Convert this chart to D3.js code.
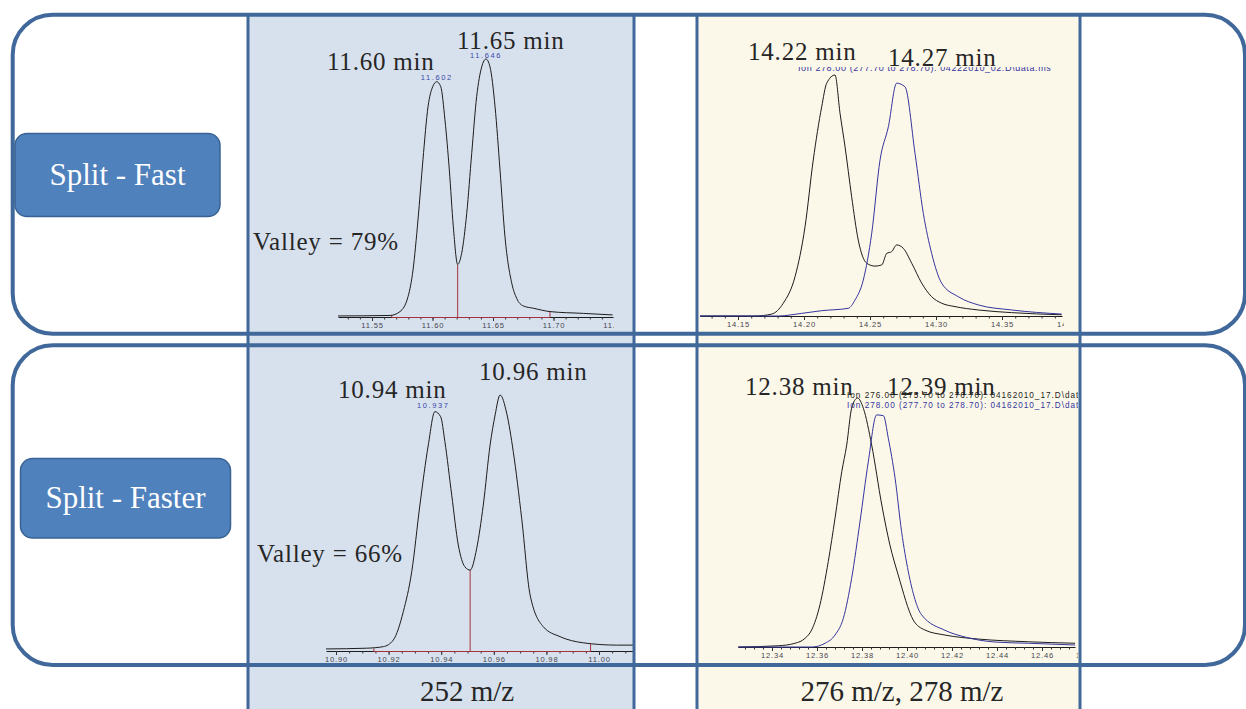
<!DOCTYPE html>
<html>
<head>
<meta charset="utf-8">
<script src="https://cdn.jsdelivr.net/npm/d3@7"></script>
<style>
  html, body { margin: 0; padding: 0; background: #fff; }
  svg { display: block; }
</style>
</head>
<body>
<svg id="chart" width="1246" height="709"></svg>
<script>
// ---- data: [retention time (min), relative abundance (%)] ----
const rowLabels = ['Split - Fast', 'Split - Faster'];
const columnLabels = ['252 m/z', '276 m/z, 278 m/z'];

const fast252 = [
  [11.5219, 0.4], [11.5649, 0.6], [11.5731, 2.1], [11.5798, 7.9], [11.5839, 18.2],
  [11.5880, 37.6], [11.5921, 60.9], [11.5963, 81.5], [11.6002, 89.3], [11.6035, 91.2],
  [11.6068, 89.3], [11.6103, 76.4], [11.6139, 57.0], [11.6172, 35.0], [11.6208, 20.4],
  [11.6241, 24.7], [11.6283, 40.2], [11.6324, 63.4], [11.6365, 85.4], [11.6407, 97.0],
  [11.6442, 100], [11.6475, 97.0], [11.6517, 81.5], [11.6558, 57.0], [11.6599, 31.1],
  [11.6655, 13.1], [11.6696, 7.2], [11.6750, 4.3], [11.6833, 3.4], [11.6971, 2.1],
  [11.7246, 1.4], [11.7489, 0.8]
];
const fast276 = [
  [14.1212, 0], [14.1629, 0], [14.1755, 0.8], [14.1843, 5.3], [14.1932, 16.3],
  [14.2008, 37.1], [14.2070, 64.7], [14.2134, 86.8], [14.2172, 96.6], [14.2235, 100],
  [14.2273, 84.1], [14.2311, 70.2], [14.2361, 49.5], [14.2411, 31.5], [14.2475, 21.9],
  [14.2538, 20.7], [14.2589, 21.2], [14.2627, 26.0], [14.2664, 26.7], [14.2702, 29.5],
  [14.2752, 28.1], [14.2816, 21.9], [14.2892, 13.6], [14.2967, 8.0], [14.3043, 5.3],
  [14.3144, 3.9], [14.3320, 2.5], [14.3573, 1.4], [14.3952, 0.5]
];
const fast278 = [
  [14.1212, 0], [14.1805, 0], [14.1983, 1.1], [14.2134, 2.2], [14.2336, 3.2],
  [14.2386, 6.6], [14.2449, 14.9], [14.2513, 34.3], [14.2576, 64.7], [14.2639, 78.5],
  [14.2702, 96.6], [14.2765, 95.1], [14.2841, 67.5], [14.2904, 42.6], [14.2967, 26.0],
  [14.3043, 13.6], [14.3169, 8.0], [14.3320, 4.6], [14.3573, 2.5], [14.3952, 0.8]
];
const faster252 = [
  [10.8962, 0.8], [10.9117, 1.1], [10.9180, 1.7], [10.9218, 4.3], [10.9256, 15.4],
  [10.9288, 31.0], [10.9319, 57.0], [10.9351, 80.5], [10.9376, 93.5], [10.9398, 91.5],
  [10.9414, 81.8], [10.9440, 60.9], [10.9465, 41.4], [10.9490, 32.9], [10.9510, 31.6],
  [10.9535, 40.1], [10.9560, 57.0], [10.9586, 80.5], [10.9605, 92.2], [10.9624, 100],
  [10.9649, 92.9], [10.9674, 77.9], [10.9706, 51.8], [10.9738, 21.9], [10.9788, 9.5],
  [10.9852, 5.6], [10.9940, 3.2], [11.0067, 2.3], [11.0130, 2.3]
];
const faster276 = [
  [12.3250, 0], [12.3428, 0.5], [12.3502, 1.5], [12.3547, 3.5], [12.3576, 6.8],
  [12.3613, 16.9], [12.3650, 34.3], [12.3680, 51.7], [12.3710, 70.4], [12.3732, 81.1],
  [12.3754, 95.9], [12.3780, 100], [12.3806, 95.9], [12.3843, 81.1], [12.3888, 57.0],
  [12.3924, 41.0], [12.3961, 28.9], [12.4028, 10.8], [12.4080, 6.8], [12.4169, 4.8],
  [12.4317, 3.2], [12.4539, 2.1], [12.4747, 1.5]
];
const faster278 = [
  [12.3250, 0], [12.3576, 0], [12.3636, 1.5], [12.3680, 4.8], [12.3717, 11.5],
  [12.3754, 27.6], [12.3791, 50.3], [12.3828, 74.4], [12.3865, 93.2], [12.3895, 92.9],
  [12.3917, 83.8], [12.3947, 67.8], [12.3976, 46.3], [12.4006, 30.2], [12.4065, 12.9],
  [12.4169, 6.7], [12.4258, 4.0], [12.4391, 2.0], [12.4539, 1.5], [12.4747, 0.8]
];

// valley integration markers: start of baseline, valley drop line, end of baseline
const fast252Valley = [{t: 11.5663, h: 0.8}, {t: 11.6208, h: 20.4}, {t: 11.6971, h: 2.1}];
const faster252Valley = [{t: 10.9144, h: 1.0}, {t: 10.9510, h: 31.6}, {t: 10.9968, h: 3.0}];

// small peak annotations printed by the instrument software
const fast252Peaks = [{t: 11.6035, h: 91.2, label: '11.602'}, {t: 11.6442, h: 100, label: '11.646'}];
const faster252Peaks = [{t: 10.9370, h: 93.5, label: '10.937'}];

// axis tick labels
const fast252Ticks = [11.55, 11.60, 11.65, 11.70, 11.75];
const fast276Ticks = [14.15, 14.20, 14.25, 14.30, 14.35, 14.40];
const faster252Ticks = [10.90, 10.92, 10.94, 10.96, 10.98, 11.00, 11.02];
const faster276Ticks = [12.34, 12.36, 12.38, 12.40, 12.42, 12.44, 12.46, 12.48];

// trace headers
const fast276Headers = ['Ion 278.00 (277.70 to 278.70): 04222010_02.D\\data.ms'];
const faster276Headers = ['Ion 276.00 (275.70 to 276.70): 04162010_17.D\\data.ms',
                          'Ion 278.00 (277.70 to 278.70): 04162010_17.D\\data.ms'];

// retention-time callouts and valley notes
const fastCallouts = ['11.60 min', '11.65 min', '14.22 min', '14.27 min'];
const fasterCallouts = ['10.94 min', '10.96 min', '12.38 min', '12.39 min'];
const valleyNotes = ['Valley = 79%', 'Valley = 66%'];

// ---- drawing ----
const BORDER = '#41689a';
const BLACK = '#1c1c1c';
const BLUE = '#34349e';
const RED = '#a3333a';
const SERIF = "'Liberation Serif', 'Times New Roman', serif";
const SANS = "'Liberation Sans', Arial, sans-serif";

const svg = d3.select('#chart');
const defs = svg.append('defs');

// column backgrounds
svg.append('rect').attr('x', 248).attr('y', 14).attr('width', 386).attr('height', 700).attr('fill', '#d7e1ee');
svg.append('rect').attr('x', 697).attr('y', 14).attr('width', 383).attr('height', 700).attr('fill', '#fcf8e9');

// panel layout: calibration of the time axis and the abundance axis in pixels
const panels = [
  {id: 'p1', series: [fast252], colors: [BLACK], cal: [[11.55, 372], [11.70, 553.5]], ext: [338, 613],
   y0: 317, y100: 59, ticks: fast252Ticks, minor: 0.01, clip: [336, 30, 278, 305],
   valley: fast252Valley, peaks: fast252Peaks, peakGap: 1.5, headers: [], headerXY: [0, 0]},
  {id: 'p2', series: [fast276, fast278], colors: [BLACK, BLUE], cal: [[14.15, 738], [14.35, 1002]], ext: [700, 1062],
   y0: 316, y100: 75, ticks: fast276Ticks, minor: 0.01, clip: [699, 67, 365, 267],
   valley: null, peaks: [], headers: fast276Headers, headerXY: [798, 70.5], headerSize: 9, headerSpacing: 0.6,
   headerColors: [BLUE]},
  {id: 'p3', series: [faster252], colors: [BLACK], cal: [[10.90, 336], [11.00, 599]], ext: [326, 634],
   y0: 651, y100: 395, ticks: faster252Ticks, minor: 0.005, clip: [325, 388, 309, 278],
   valley: faster252Valley, peaks: faster252Peaks, peakGap: 3.5, headers: [], headerXY: [0, 0]},
  {id: 'p4', series: [faster276, faster278], colors: [BLACK, BLUE], cal: [[12.34, 772], [12.46, 1042]], ext: [738, 1075],
   y0: 647, y100: 398, ticks: faster276Ticks, minor: 0.004, clip: [737, 389, 341, 277],
   valley: null, peaks: [], headers: faster276Headers, headerXY: [847, 397.5], headerSize: 8.2, headerSpacing: 1.0,
   headerColors: [BLACK, BLUE]}
];

panels.forEach(p => {
  defs.append('clipPath').attr('id', 'clip-' + p.id)
    .append('rect')
    .attr('x', p.clip[0]).attr('y', p.clip[1])
    .attr('width', p.clip[2]).attr('height', p.clip[3]);

  const g = svg.append('g').attr('clip-path', `url(#clip-${p.id})`);

  const cal = d3.scaleLinear().domain([p.cal[0][0], p.cal[1][0]]).range([p.cal[0][1], p.cal[1][1]]);
  const x = d3.scaleLinear().domain([cal.invert(p.ext[0]), cal.invert(p.ext[1])]).range(p.ext);
  const y = d3.scaleLinear().domain([0, 100]).range([p.y0, p.y100]);

  // trace headers
  p.headers.forEach((h, i) => {
    g.append('text')
      .attr('x', p.headerXY[0]).attr('y', p.headerXY[1] + i * 10)
      .attr('font-family', SANS).attr('font-size', p.headerSize)
      .attr('letter-spacing', p.headerSpacing)
      .attr('fill', p.headerColors[i])
      .text(h);
  });

  // minor ticks
  const d = x.domain();
  const minorVals = d3.range(Math.ceil(d[0] / p.minor), Math.floor(d[1] / p.minor) + 1).map(k => k * p.minor);
  g.append('g')
    .attr('transform', `translate(0,${p.y0})`)
    .call(d3.axisBottom(x).tickValues(minorVals).tickSizeInner(2.5).tickSizeOuter(0).tickFormat(''))
    .call(a => a.select('.domain').attr('stroke', BLACK).attr('stroke-width', 1))
    .call(a => a.selectAll('.tick line').attr('stroke', '#333'));

  // major ticks with labels
  g.append('g')
    .attr('transform', `translate(0,${p.y0})`)
    .call(d3.axisBottom(x).tickValues(p.ticks).tickSizeInner(4).tickSizeOuter(0).tickPadding(2)
      .tickFormat(d3.format('.2f')))
    .call(a => a.select('.domain').remove())
    .call(a => a.selectAll('.tick line').attr('stroke', '#333'))
    .call(a => a.selectAll('.tick text')
      .attr('font-family', SANS).attr('font-size', 7.6)
      .attr('letter-spacing', 0.8)
      .attr('fill', '#45454f'));

  // valley markers
  if (p.valley) {
    const v = p.valley;
    const red = g.append('g').attr('stroke', RED).attr('stroke-width', 1).attr('fill', 'none');
    red.append('line')
      .attr('x1', x(v[0].t)).attr('x2', x(v[v.length - 1].t))
      .attr('y1', y(0) + 0.5).attr('y2', y(0) + 0.5);
    red.selectAll('line.drop')
      .data(v)
      .enter()
      .append('line')
      .attr('class', 'drop')
      .attr('x1', dd => x(dd.t)).attr('x2', dd => x(dd.t))
      .attr('y1', y(0) + 0.5).attr('y2', dd => y(dd.h));
  }

  // traces
  const line = d3.line()
    .x(dd => x(dd[0]))
    .y(dd => y(dd[1]))
    .curve(d3.curveMonotoneX);

  p.series.forEach((s, i) => {
    g.append('path')
      .datum(s)
      .attr('d', line)
      .attr('fill', 'none')
      .attr('stroke', p.colors[i])
      .attr('stroke-width', 1);
  });

  // peak annotations
  g.selectAll('.peak-label')
    .data(p.peaks)
    .enter()
    .append('text')
    .attr('class', 'peak-label')
    .attr('x', dd => x(dd.t))
    .attr('y', dd => y(dd.h) - p.peakGap)
    .attr('text-anchor', 'middle')
    .attr('font-family', SANS).attr('font-size', 7.5)
    .attr('letter-spacing', 1.6)
    .attr('fill', '#3a46a8')
    .text(dd => dd.label);
});

// rounded frames for the two rows
const frames = [{y: 14.7, h: 319}, {y: 345.3, h: 319.7}];
svg.selectAll('.frame')
  .data(frames)
  .enter()
  .append('rect')
  .attr('class', 'frame')
  .attr('x', 12.7).attr('y', dd => dd.y)
  .attr('width', 1232.3).attr('height', dd => dd.h)
  .attr('rx', 40).attr('ry', 40)
  .attr('fill', 'none')
  .attr('stroke', BORDER)
  .attr('stroke-width', 4);

// column borders
[248, 634, 697, 1080].forEach(cx => {
  svg.append('line')
    .attr('x1', cx).attr('x2', cx).attr('y1', 13).attr('y2', 709)
    .attr('stroke', BORDER).attr('stroke-width', 3);
});

// callouts
const callouts = [
  {text: fastCallouts[0], x: 327, y: 70},
  {text: fastCallouts[1], x: 457, y: 49},
  {text: fastCallouts[2], x: 748, y: 60},
  {text: fastCallouts[3], x: 888, y: 66},
  {text: fasterCallouts[0], x: 338, y: 398},
  {text: fasterCallouts[1], x: 479, y: 380},
  {text: fasterCallouts[2], x: 745, y: 395},
  {text: fasterCallouts[3], x: 887, y: 395},
  {text: valleyNotes[0], x: 253, y: 250},
  {text: valleyNotes[1], x: 257, y: 562}
];
svg.selectAll('.callout')
  .data(callouts)
  .enter()
  .append('text')
  .attr('class', 'callout')
  .attr('x', dd => dd.x).attr('y', dd => dd.y)
  .attr('font-family', SERIF).attr('font-size', 25)
  .attr('letter-spacing', 0.8)
  .attr('fill', '#262626')
  .text(dd => dd.text);

// row badges
const badges = [
  {text: rowLabels[0], x: 15, y: 133.5, w: 205, h: 83},
  {text: rowLabels[1], x: 20.5, y: 458.5, w: 210, h: 79.5}
];
const badge = svg.selectAll('.badge')
  .data(badges)
  .enter()
  .append('g')
  .attr('class', 'badge');
badge.append('rect')
  .attr('x', dd => dd.x).attr('y', dd => dd.y)
  .attr('width', dd => dd.w).attr('height', dd => dd.h)
  .attr('rx', 12).attr('ry', 12)
  .attr('fill', '#4f81bd')
  .attr('stroke', '#3a6394')
  .attr('stroke-width', 1.5);
badge.append('text')
  .attr('x', dd => dd.x + dd.w / 2)
  .attr('y', dd => dd.y + dd.h / 2 + 10)
  .attr('text-anchor', 'middle')
  .attr('font-family', SERIF).attr('font-size', 31)
  .attr('fill', '#ffffff')
  .text(dd => dd.text);

// column captions
const captions = [{text: columnLabels[0], x: 467}, {text: columnLabels[1], x: 902}];
svg.selectAll('.caption')
  .data(captions)
  .enter()
  .append('text')
  .attr('class', 'caption')
  .attr('x', dd => dd.x).attr('y', 701)
  .attr('text-anchor', 'middle')
  .attr('font-family', SERIF).attr('font-size', 29)
  .attr('fill', '#262626')
  .text(dd => dd.text);
</script>
</body>
</html>
